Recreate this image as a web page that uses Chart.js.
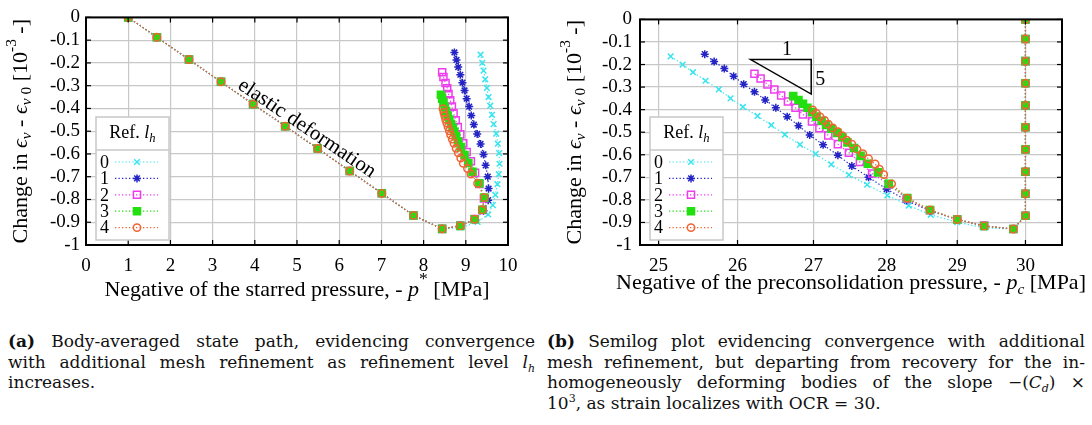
<!DOCTYPE html>
<html>
<head>
<meta charset="utf-8">
<title>State path convergence</title>
<script src="https://cdn.jsdelivr.net/npm/chart.js@4.4.1/dist/chart.umd.min.js"></script>
<style>
  body { margin: 0; background: #fff; width: 1092px; height: 425px; position: relative; overflow: hidden; }
  #leftChart { position: absolute; left: 0; top: 0; }
  #rightChart { position: absolute; left: 540px; top: 0; }
  .cap { position: absolute; top: 331px; font-family: "DejaVu Serif", serif; font-size: 17px; line-height: 20.7px; color: #111; }
  .cap div { text-align: justify; text-align-last: justify; white-space: nowrap; }
  .cap div.last { text-align-last: left; }
  .cap sub, .cap sup { font-size: 11px; line-height: 0; }
</style>
</head>
<body>
<canvas id="leftChart" width="540" height="305"></canvas>
<canvas id="rightChart" width="552" height="305"></canvas>

<div class="cap" style="left:8px; width:527px;">
  <div><b>(a)</b> Body-averaged state path, evidencing convergence</div>
  <div>with additional mesh refinement as refinement level <i>l<sub>h</sub></i></div>
  <div class="last">increases.</div>
</div>
<div class="cap" style="left:547px; width:538px;">
  <div><b>(b)</b> Semilog plot evidencing convergence with additional</div>
  <div>mesh refinement, but departing from recovery for the in-</div>
  <div>homogeneously deforming bodies of the slope &minus;(<i>C<sub>d</sub></i>) &times;</div>
  <div class="last">10<sup>3</sup>, as strain localizes with OCR = 30.</div>
</div>

<script>
'use strict';

// elastic part of the path, shared by every refinement level
let elasticStrain = [0, -0.087, -0.185, -0.283, -0.381, -0.478, -0.576, -0.675, -0.773, -0.870, -0.929];
let elasticPstar = [1.00, 1.68, 2.44, 3.20, 3.96, 4.72, 5.49, 6.25, 7.01, 7.76, 8.44];
let elasticPc = [30, 30, 30, 30, 30, 30, 30, 30, 30, 30, 29.82];

// plastic branch of each level, from the turning point upwards
let strain0 = [-0.924, -0.899, -0.866, -0.825, -0.780, -0.733, -0.689, -0.643, -0.596, -0.555, -0.511, -0.469, -0.428, -0.388, -0.350, -0.310, -0.272, -0.234, -0.200, -0.164];
let pstar0 = [8.87, 9.28, 9.53, 9.64, 9.70, 9.75, 9.78, 9.80, 9.79, 9.76, 9.72, 9.66, 9.62, 9.58, 9.54, 9.50, 9.46, 9.42, 9.39, 9.35];
let pc0 = [29.39, 29.00, 28.62, 28.31, 28.01, 27.73, 27.48, 27.24, 27.03, 26.82, 26.62, 26.44, 26.26, 26.07, 25.91, 25.76, 25.59, 25.43, 25.30, 25.15];

let strain1 = [-0.916, -0.887, -0.849, -0.803, -0.752, -0.700, -0.650, -0.602, -0.556, -0.512, -0.471, -0.431, -0.392, -0.357, -0.321, -0.287, -0.252, -0.218, -0.187, -0.154];
let pstar1 = [8.87, 9.21, 9.42, 9.53, 9.54, 9.52, 9.47, 9.42, 9.35, 9.27, 9.19, 9.13, 9.08, 9.02, 8.97, 8.92, 8.87, 8.82, 8.78, 8.73];
let pc1 = [29.39, 29.00, 28.61, 28.28, 28.00, 27.75, 27.52, 27.33, 27.13, 26.95, 26.80, 26.65, 26.50, 26.36, 26.22, 26.08, 25.95, 25.83, 25.70, 25.58];

let strain2 = [-0.914, -0.886, -0.846, -0.795, -0.732, -0.683, -0.632, -0.591, -0.553, -0.514, -0.482, -0.452, -0.421, -0.392, -0.364, -0.337, -0.311, -0.288, -0.262, -0.241];
let pstar2 = [8.87, 9.21, 9.40, 9.43, 9.32, 9.22, 9.12, 9.02, 8.94, 8.87, 8.81, 8.76, 8.71, 8.67, 8.63, 8.59, 8.56, 8.52, 8.47, 8.44];
let pc2 = [29.39, 29.00, 28.61, 28.28, 28.03, 27.80, 27.63, 27.48, 27.33, 27.20, 27.08, 26.98, 26.86, 26.76, 26.66, 26.57, 26.48, 26.39, 26.30, 26.22];

let strain3 = [-0.916, -0.887, -0.845, -0.792, -0.729, -0.678, -0.640, -0.605, -0.570, -0.545, -0.522, -0.503, -0.485, -0.468, -0.449, -0.431, -0.411, -0.392, -0.374, -0.357, -0.340];
let pstar3 = [8.87, 9.21, 9.39, 9.44, 9.32, 9.16, 9.06, 8.97, 8.88, 8.82, 8.77, 8.73, 8.69, 8.65, 8.61, 8.57, 8.53, 8.50, 8.47, 8.44, 8.41];
let pc3 = [29.39, 29.00, 28.61, 28.29, 28.03, 27.88, 27.74, 27.64, 27.55, 27.46, 27.39, 27.32, 27.24, 27.17, 27.11, 27.04, 26.98, 26.92, 26.86, 26.80, 26.73];

let strain4 = [-0.916, -0.887, -0.845, -0.792, -0.729, -0.688, -0.664, -0.641, -0.618, -0.595, -0.575, -0.553, -0.535, -0.516, -0.498, -0.481, -0.464, -0.448, -0.432, -0.417, -0.401];
let pstar4 = [8.87, 9.21, 9.39, 9.44, 9.28, 9.12, 9.04, 8.94, 8.88, 8.82, 8.77, 8.72, 8.68, 8.64, 8.61, 8.58, 8.55, 8.52, 8.50, 8.48, 8.46];
let pc4 = [29.39, 29.00, 28.61, 28.29, 28.07, 27.96, 27.90, 27.84, 27.75, 27.67, 27.59, 27.52, 27.45, 27.39, 27.33, 27.26, 27.20, 27.15, 27.09, 27.04, 26.99];

let levels = ['0', '1', '2', '3', '4'];
let branchStrain = [strain0, strain1, strain2, strain3, strain4];
let branchPstar = [pstar0, pstar1, pstar2, pstar3, pstar4];
let branchPc = [pc0, pc1, pc2, pc3, pc4];

// axis ticks
let pstarTicks = [0, 1, 2, 3, 4, 5, 6, 7, 8, 9, 10];
let pcTicks = [25, 26, 27, 28, 29, 30];
let strainTicks = [0, -0.1, -0.2, -0.3, -0.4, -0.5, -0.6, -0.7, -0.8, -0.9, -1];

// slope marker (1 : 5) on the semilog plot
let slopeX = [26.17, 26.97];
let slopeY = [-0.178, -0.331];

let colors = ['#3ae4ee', '#2424c4', '#ee3cee', '#22e010', '#f06434'];
let styles = [
    { pointStyle: 'crossRot', radius: 4, fill: 'rgba(0,0,0,0)' },
    { pointStyle: 'star', radius: 4, fill: 'rgba(0,0,0,0)' },
    { pointStyle: 'rect', radius: 5, fill: 'rgba(255,255,255,0)' },
    { pointStyle: 'rect', radius: 5, fill: '#22e010' },
    { pointStyle: 'circle', radius: 3.7, fill: 'rgba(0,0,0,0)' }
];

const FONT = '"Liberation Serif", "DejaVu Serif", serif';

function R(t, i, s, dy) {
    return { t: t, i: !!i, s: s || 1, dy: dy || 0 };
}

function fontFor(r, size) {
    return (r.i ? 'italic ' : '') + (size * r.s).toFixed(1) + 'px ' + FONT;
}

// draws a run of mixed roman/italic/sub/sup text centred at (cx, cy)
function drawRuns(ctx, runs, size, cx, cy, angle) {
    let w = 0;
    runs.forEach(r => {
        ctx.font = fontFor(r, size);
        r.w = ctx.measureText(r.t).width;
        w += r.w;
    });
    ctx.save();
    ctx.translate(cx, cy);
    ctx.rotate(angle || 0);
    ctx.fillStyle = '#000';
    ctx.textAlign = 'left';
    ctx.textBaseline = 'middle';
    let x = -w / 2;
    runs.forEach(r => {
        ctx.font = fontFor(r, size);
        ctx.fillText(r.t, x, r.dy * size);
        x += r.w;
    });
    ctx.restore();
}

function seg(ctx, x1, y1, x2, y2) {
    ctx.beginPath();
    ctx.moveTo(x1, y1);
    ctx.lineTo(x2, y2);
    ctx.stroke();
}

// boxed key with "Ref. l_h" header
function drawKey(chart) {
    let ctx = chart.ctx;
    let a = chart.chartArea;
    let bx = a.left + 10, by = 117, bw = 73, bh = 123;
    ctx.save();
    ctx.fillStyle = '#fff';
    ctx.fillRect(bx, by, bw, bh);
    ctx.strokeStyle = '#c8c8c8';
    ctx.lineWidth = 1.5;
    ctx.strokeRect(bx, by, bw, bh);
    seg(ctx, bx, by + 33, bx + bw, by + 33);
    drawRuns(ctx, [R('Ref. '), R('l', true), R('h', true, 0.7, 0.3)], 18, bx + bw / 2, by + 16);

    chart.data.datasets.forEach((ds, i) => {
        let y = by + 45 + i * 16.4;
        ctx.fillStyle = '#000';
        ctx.font = '18px ' + FONT;
        ctx.textAlign = 'left';
        ctx.textBaseline = 'middle';
        ctx.fillText(ds.label, bx + 4, y + 1);
        ctx.strokeStyle = ds.borderColor;
        ctx.lineWidth = ds.borderWidth;
        ctx.setLineDash(ds.borderDash);
        seg(ctx, bx + 19, y, bx + 62, y);
        ctx.setLineDash([]);
        ctx.strokeStyle = ds.pointBorderColor;
        ctx.fillStyle = ds.pointBackgroundColor;
        ctx.lineWidth = ds.pointBorderWidth;
        Chart.helpers.drawPoint(ctx, { pointStyle: ds.pointStyle, radius: ds.pointRadius, borderWidth: ds.pointBorderWidth, rotation: 0 }, bx + 41, y);
    });
    ctx.restore();
}

// frame, mirrored tick marks, axis titles and annotations
function makeFrame(cfg) {
    return {
        id: 'frame' + cfg.name,
        afterDatasetsDraw(chart) {
            let ctx = chart.ctx;
            let a = chart.chartArea;
            let xs = chart.scales.x, ys = chart.scales.y;
            ctx.save();
            ctx.strokeStyle = '#000';
            ctx.lineWidth = 1.2;
            xs.ticks.forEach(t => {
                let px = xs.getPixelForValue(t.value);
                seg(ctx, px, a.bottom, px, a.bottom - 5);
                seg(ctx, px, a.top, px, a.top + 5);
            });
            ys.ticks.forEach(t => {
                let py = ys.getPixelForValue(t.value);
                seg(ctx, a.left, py, a.left + 5, py);
                seg(ctx, a.right, py, a.right - 5, py);
            });
            ctx.lineWidth = 2;
            ctx.strokeRect(a.left, a.top, a.right - a.left, a.bottom - a.top);
            ctx.restore();

            drawKey(chart);
            drawRuns(ctx, cfg.xTitle, 22, (a.left + a.right) / 2, cfg.xTitleY);
            drawRuns(ctx, yTitle, 22, a.left - 65, (a.top + a.bottom) / 2, -Math.PI / 2);
            if (cfg.extra) cfg.extra(chart);
        }
    };
}

let yTitle = [R('Change in '), R('\u03f5', true), R('v', true, 0.7, 0.28), R(' - '), R('\u03f5', true),
    R('v', true, 0.7, 0.28), R(' 0', false, 0.7, 0.28), R(' [10'), R('-3', false, 0.7, -0.4), R(' -]')];

function buildDatasets(xBranch, xElastic) {
    return levels.map((lab, i) => {
        let xs = xElastic.concat(xBranch[i]);
        let ys = elasticStrain.concat(branchStrain[i]);
        return {
            label: lab,
            data: xs.map((x, k) => ({ x: x, y: ys[k] })),
            showLine: true,
            borderColor: colors[i],
            borderWidth: 1.2,
            borderDash: [1.3, 2.2],
            pointStyle: styles[i].pointStyle,
            pointRadius: styles[i].radius,
            pointBorderWidth: 1.5,
            pointBorderColor: colors[i],
            pointBackgroundColor: styles[i].fill,
            order: 4 - i
        };
    });
}

function yScale(width, pad) {
    return {
        min: -1,
        max: 0,
        afterFit: s => { s.width = width; },
        afterBuildTicks: s => { s.ticks = strainTicks.map(v => ({ value: v })); },
        grid: { color: '#c8c8c8', lineWidth: 1.2, drawTicks: false },
        border: { display: false },
        ticks: {
            autoSkip: false,
            padding: pad,
            color: '#000',
            font: { family: FONT, size: 19 },
            callback: v => String(Math.round(v * 10) / 10)
        }
    };
}

function xTicks() {
    return { padding: 10, color: '#000', autoSkip: false, maxRotation: 0, font: { family: FONT, size: 19 }, callback: v => String(v) };
}

function baseOptions(xScale, yWidth, yPad, rightPad) {
    return {
        responsive: false,
        animation: false,
        layout: { padding: { left: 0, right: rightPad, top: 12, bottom: 0 } },
        plugins: { legend: { display: false }, tooltip: { enabled: false } },
        scales: { x: xScale, y: yScale(yWidth, yPad) }
    };
}

// starred pressure chart
new Chart(document.getElementById('leftChart'), {
    type: 'scatter',
    data: { datasets: buildDatasets(branchPstar, elasticPstar) },
    options: baseOptions({
        type: 'linear',
        min: 0,
        max: 10,
        afterFit: s => { s.height = 60; },
        afterBuildTicks: s => { s.ticks = pstarTicks.map(v => ({ value: v })); },
        grid: { color: '#c8c8c8', lineWidth: 1.2, drawTicks: false },
        border: { display: false },
        ticks: xTicks()
    }, 86, 6, 32),
    plugins: [makeFrame({
        name: 'A',
        xTitle: [R('Negative of the starred pressure, - '), R('p', true), R('*', false, 0.8, -0.5), R(' [MPa]')],
        xTitleY: 290,
        extra: chart => {
            let xs = chart.scales.x, ys = chart.scales.y;
            let n = elasticPstar.length - 1;
            let dx = xs.getPixelForValue(elasticPstar[n]) - xs.getPixelForValue(elasticPstar[0]);
            let dy = ys.getPixelForValue(elasticStrain[n]) - ys.getPixelForValue(elasticStrain[0]);
            drawRuns(chart.ctx, [R('elastic deformation')], 21,
                xs.getPixelForValue(5.235), ys.getPixelForValue(-0.488), Math.atan2(dy, dx));
        }
    })]
});

// preconsolidation pressure chart, log abscissa
new Chart(document.getElementById('rightChart'), {
    type: 'scatter',
    data: { datasets: buildDatasets(branchPc, elasticPc) },
    options: baseOptions({
        type: 'logarithmic',
        min: 24.77,
        max: 30.55,
        afterFit: s => { s.height = 60; },
        afterBuildTicks: s => { s.ticks = pcTicks.map(v => ({ value: v })); },
        grid: { color: '#c8c8c8', lineWidth: 1.2, drawTicks: false },
        border: { display: false },
        ticks: xTicks()
    }, 100, 8, 30),
    plugins: [makeFrame({
        name: 'B',
        xTitle: [R('Negative of the preconsolidation pressure, - '), R('p', true), R('c', true, 0.7, 0.3), R(' [MPa]')],
        xTitleY: 283,
        extra: chart => {
            let ctx = chart.ctx;
            let xs = chart.scales.x, ys = chart.scales.y;
            let x0 = xs.getPixelForValue(slopeX[0]), x1 = xs.getPixelForValue(slopeX[1]);
            let y0 = ys.getPixelForValue(slopeY[0]), y1 = ys.getPixelForValue(slopeY[1]);
            ctx.save();
            ctx.strokeStyle = '#000';
            ctx.lineWidth = 1.5;
            ctx.beginPath();
            ctx.moveTo(x0, y0);
            ctx.lineTo(x1, y0);
            ctx.lineTo(x1, y1);
            ctx.closePath();
            ctx.stroke();
            ctx.restore();
            drawRuns(ctx, [R('1')], 20, (x0 + x1) / 2 + 6, y0 - 10);
            drawRuns(ctx, [R('5')], 20, x1 + 9, (y0 + y1) / 2 + 3);
        }
    })]
});
</script>
</body>
</html>
